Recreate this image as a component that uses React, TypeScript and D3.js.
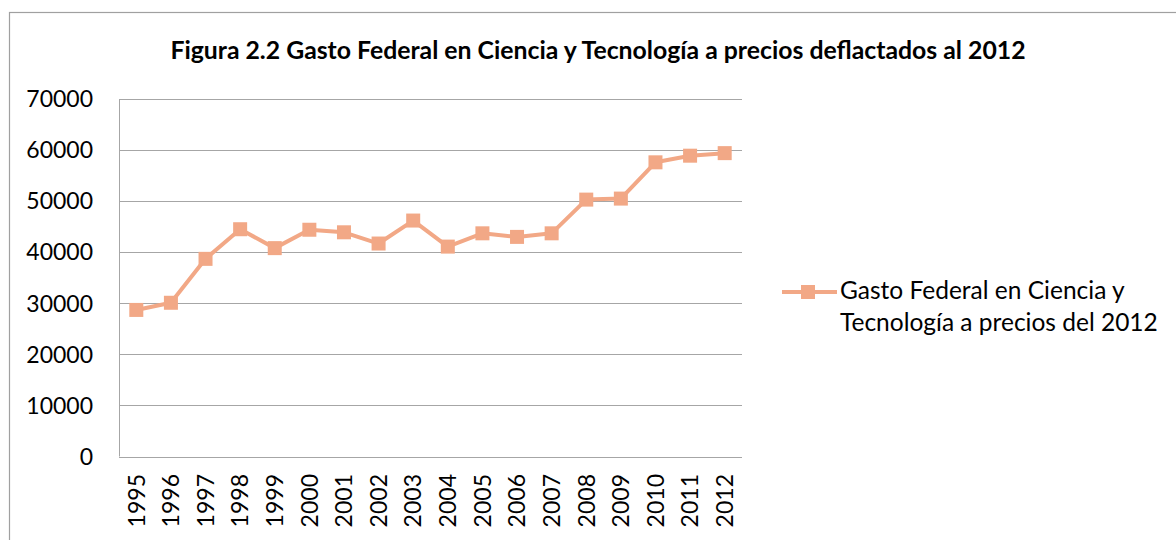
import React, { useEffect, useRef } from 'react';
import * as d3 from 'd3';

const years = ['1995', '1996', '1997', '1998', '1999', '2000', '2001', '2002', '2003',
  '2004', '2005', '2006', '2007', '2008', '2009', '2010', '2011', '2012'];
const gasto = [28700, 30100, 38700, 44500, 40800, 44400, 43900, 41700, 46200,
  41100, 43700, 43000, 43700, 50300, 50500, 57600, 58900, 59400];
const yTicks = [0, 10000, 20000, 30000, 40000, 50000, 60000, 70000];
const title = 'Figura 2.2 Gasto Federal en Ciencia y Tecnología a precios deflactados al 2012';
const legendLines = ['Gasto Federal en Ciencia y', 'Tecnología a precios del 2012'];

const W = 1176;
const H = 540;
const LINE = '#F2A886';
const GRID = '#A6A6A6';
const FONT = 'Lato, "Open Sans", sans-serif';

export default function App() {
  const svgRef = useRef<SVGSVGElement>(null);

  useEffect(() => {
    if (!svgRef.current) return;
    const svg = d3.select(svgRef.current);
    svg.selectAll('*').remove();

    const m = { left: 119, right: 742, top: 99, bottom: 456.5 };

    const x = d3.scaleBand<string>().domain(years).range([m.left, m.right]);
    const y = d3.scaleLinear().domain([0, 70000]).range([m.bottom, m.top]);

    // chart frame (runs off the right / bottom edge)
    svg.append('rect')
      .attr('x', 9.5).attr('y', 12.5)
      .attr('width', W + 20).attr('height', H + 20)
      .attr('fill', '#fff').attr('stroke', '#A0A0A0').attr('stroke-width', 1.2);

    // title
    svg.append('text')
      .attr('x', 598).attr('y', 59)
      .attr('text-anchor', 'middle')
      .attr('font-family', FONT)
      .attr('font-weight', 'bold').attr('font-size', '24.8px')
      .attr('fill', '#000').text(title);

    // gridlines
    svg.append('g').selectAll('line').data(yTicks).join('line')
      .attr('x1', m.left).attr('x2', m.right)
      .attr('y1', d => Math.round(y(d)) + 0.5).attr('y2', d => Math.round(y(d)) + 0.5)
      .attr('stroke', GRID).attr('stroke-width', 1);

    // y axis line
    svg.append('line')
      .attr('x1', m.left + 0.5).attr('x2', m.left + 0.5)
      .attr('y1', m.top).attr('y2', m.bottom)
      .attr('stroke', GRID).attr('stroke-width', 1);

    // y labels
    svg.append('g').selectAll('text').data(yTicks).join('text')
      .attr('x', 93).attr('y', d => y(d))
      .attr('dy', '0.36em')
      .attr('text-anchor', 'end')
      .attr('font-family', FONT)
      .attr('font-size', '23px').attr('fill', '#000')
      .text(d => String(d));

    // x labels (rotated)
    svg.append('g').selectAll('text').data(years).join('text')
      .attr('transform', d => `translate(${(x(d) ?? 0) + x.bandwidth() / 2},474) rotate(-90)`)
      .attr('dy', '0.36em')
      .attr('text-anchor', 'end')
      .attr('font-family', FONT)
      .attr('font-size', '23px').attr('fill', '#000')
      .text(d => d);

    // series line
    const line = d3.line<number>()
      .x((_, i) => (x(years[i]) ?? 0) + x.bandwidth() / 2)
      .y(d => y(d));
    svg.append('path').datum(gasto)
      .attr('d', line)
      .attr('fill', 'none').attr('stroke', LINE)
      .attr('stroke-width', 4).attr('stroke-linejoin', 'round');

    // square markers
    const ms = 14;
    svg.append('g').selectAll('rect').data(gasto).join('rect')
      .attr('x', (_, i) => (x(years[i]) ?? 0) + x.bandwidth() / 2 - ms / 2)
      .attr('y', d => y(d) - ms / 2)
      .attr('width', ms).attr('height', ms)
      .attr('fill', LINE);

    // legend
    const lg = svg.append('g');
    lg.append('line')
      .attr('x1', 782).attr('x2', 837).attr('y1', 292).attr('y2', 292)
      .attr('stroke', LINE).attr('stroke-width', 4);
    lg.append('rect')
      .attr('x', 808 - ms / 2).attr('y', 292 - ms / 2)
      .attr('width', ms).attr('height', ms).attr('fill', LINE);
    lg.selectAll('text').data(legendLines).join('text')
      .attr('x', 840).attr('y', (_, i) => 299 + i * 32)
      .attr('font-family', FONT)
      .attr('font-size', '24.5px').attr('fill', '#000')
      .text(d => d);
  }, []);

  return (
    <svg
      ref={svgRef}
      width={W}
      height={H}
      style={{ position: 'absolute', left: 0, top: 0, background: '#fff' }}
    />
  );
}
